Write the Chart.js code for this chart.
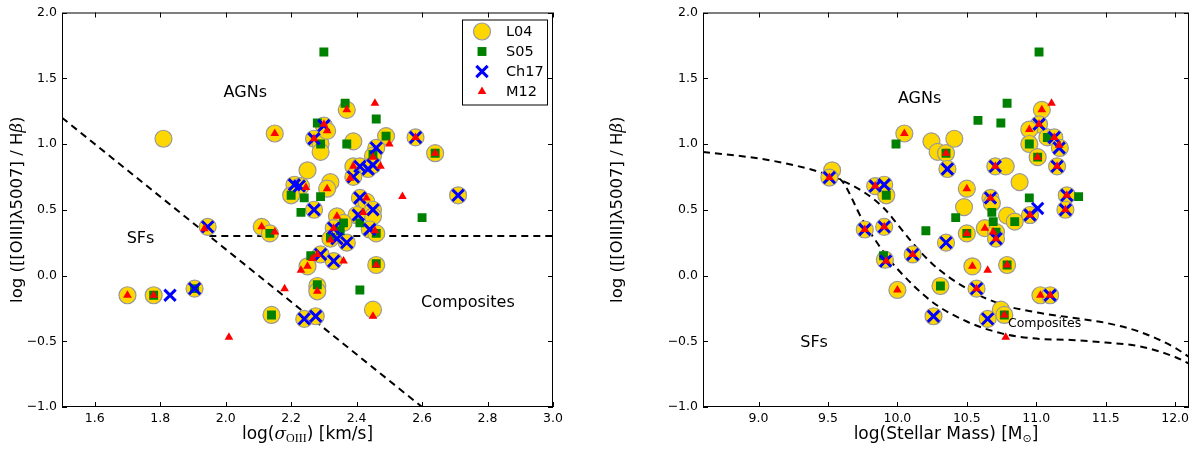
<!DOCTYPE html>
<html>
<head>
<meta charset="utf-8">
<script src="https://cdn.jsdelivr.net/npm/chart.js@4.4.0/dist/chart.umd.min.js"></script>
<style>
  html, body { margin: 0; padding: 0; background: #fff; }
  #wrap { position: relative; width: 1200px; height: 449px; }
  .panel { position: absolute; top: 0; width: 600px; height: 449px; }
</style>
</head>
<body>
<div id="wrap">
  <div class="panel" style="left:0"><canvas id="sigmaChart" width="600" height="449"></canvas></div>
  <div class="panel" style="left:600px"><canvas id="massChart" width="600" height="449"></canvas></div>
</div>
<script>
// ---- data: [x, log([OIII]/Hb)] ----
const yTicks = [-1.0, -0.5, 0.0, 0.5, 1.0, 1.5, 2.0];
const sigmaTicks = [1.6, 1.8, 2.0, 2.2, 2.4, 2.6, 2.8, 3.0];
const massTicks = [9.0, 9.5, 10.0, 10.5, 11.0, 11.5, 12.0];

const sigmaL04 = [[1.81,1.04],[2.15,1.08],[2.27,1.04],[2.29,1.00],[2.29,0.94],[2.30,1.14],[2.31,1.10],[2.37,1.26],
  [2.39,1.02],[2.49,1.06],[2.46,0.97],[2.58,1.05],[2.64,0.93],[2.25,0.80],[2.45,0.91],[2.39,0.83],[2.41,0.83],
  [2.435,0.81],[2.45,0.84],[2.39,0.75],[2.32,0.71],[2.31,0.66],[2.21,0.69],[2.23,0.68],[2.20,0.61],[2.27,0.50],
  [2.41,0.59],[2.43,0.56],[2.45,0.50],[2.45,0.45],[2.40,0.46],[2.71,0.61],[2.34,0.45],[2.36,0.40],[2.33,0.36],
  [2.32,0.28],[2.37,0.25],[2.44,0.35],[2.46,0.32],[2.29,0.16],[2.33,0.11],[2.25,0.07],[2.46,0.08],[2.28,-0.08],
  [2.28,-0.12],[2.45,-0.26],[2.14,-0.30],[2.24,-0.33],[2.275,-0.31],[2.11,0.37],[2.135,0.32],[1.70,-0.15],
  [1.78,-0.15],[1.905,-0.10],[1.945,0.37]];
const sigmaS05 = [[2.30,1.70],[2.365,1.31],[2.46,1.19],[2.28,1.16],[2.29,1.00],[2.37,1.00],[2.49,1.06],[2.64,0.93],
  [2.45,0.92],[2.20,0.61],[2.24,0.59],[2.29,0.60],[2.23,0.48],[2.41,0.40],[2.36,0.40],[2.35,0.34],[2.32,0.29],
  [2.46,0.32],[2.26,0.15],[2.46,0.09],[2.28,-0.07],[2.41,-0.11],[2.14,-0.30],[1.78,-0.15],[1.905,-0.10],
  [2.135,0.32],[2.60,0.44]];
const sigmaCh17 = [[1.83,-0.15],[1.905,-0.10],[1.945,0.37],[2.27,1.04],[2.30,1.14],[2.46,0.97],[2.58,1.05],
  [2.41,0.83],[2.435,0.81],[2.45,0.84],[2.39,0.75],[2.21,0.69],[2.225,0.68],[2.27,0.50],[2.41,0.59],[2.45,0.50],
  [2.405,0.46],[2.71,0.61],[2.33,0.36],[2.34,0.28],[2.37,0.25],[2.44,0.35],[2.29,0.16],[2.33,0.11],[2.24,-0.33],
  [2.275,-0.31]];
const sigmaM12 = [[2.15,1.08],[2.27,1.04],[2.30,1.15],[2.31,1.10],[2.37,1.26],[2.456,1.31],[2.50,1.00],[2.58,1.05],
  [2.64,0.93],[2.45,0.90],[2.473,0.83],[2.39,0.83],[2.38,0.74],[2.31,0.66],[2.245,0.67],[2.43,0.59],[2.54,0.60],
  [2.42,0.48],[2.34,0.45],[2.33,0.36],[2.32,0.27],[2.456,0.34],[2.28,0.16],[2.265,0.13],[2.25,0.07],[2.23,0.04],
  [2.36,0.11],[2.46,0.08],[2.28,-0.12],[2.45,-0.31],[2.18,-0.10],[2.11,0.37],[2.15,0.33],[2.01,-0.47],
  [1.935,0.355],[1.70,-0.15],[1.78,-0.15]];

const massL04 = [[9.53,0.80],[9.51,0.745],[10.05,1.08],[10.245,1.02],[10.29,0.94],[10.35,0.93],[10.36,0.81],
  [9.84,0.68],[9.905,0.69],[9.92,0.61],[9.765,0.35],[9.905,0.37],[10.35,0.25],[10.11,0.16],[9.91,0.12],
  [10.0,-0.11],[10.31,-0.08],[10.26,-0.31],[11.04,1.26],[11.02,1.15],[10.95,1.11],[10.95,1.00],[11.08,1.05],
  [11.13,1.05],[11.17,0.97],[11.01,0.90],[11.15,0.83],[10.705,0.83],[10.78,0.83],[10.88,0.71],[10.41,1.04],
  [10.50,0.66],[10.67,0.59],[10.68,0.55],[10.48,0.52],[10.79,0.455],[10.845,0.41],[10.955,0.46],[11.22,0.61],
  [11.21,0.50],[10.63,0.36],[10.71,0.33],[10.71,0.28],[10.50,0.32],[10.54,0.07],[10.79,0.08],[10.57,-0.10],
  [11.03,-0.15],[11.10,-0.15],[10.745,-0.26],[10.77,-0.30],[10.65,-0.33]];
const massS05 = [[11.02,1.70],[10.79,1.31],[10.58,1.18],[10.745,1.16],[10.95,1.00],[11.08,1.05],[11.01,0.90],
  [9.99,1.00],[10.35,0.93],[9.92,0.61],[10.205,0.34],[9.90,0.15],[10.31,-0.08],[10.42,0.44],[10.68,0.48],
  [10.69,0.41],[10.845,0.41],[10.95,0.59],[11.305,0.60],[10.71,0.33],[10.50,0.32],[10.79,0.08],[10.77,-0.30]];
const massCh17 = [[9.51,0.745],[10.36,0.81],[9.84,0.68],[9.905,0.69],[9.765,0.35],[9.905,0.37],[10.35,0.25],
  [10.11,0.16],[9.915,0.11],[10.26,-0.31],[11.02,1.15],[11.13,1.05],[11.165,0.97],[11.15,0.83],[10.705,0.83],
  [10.67,0.59],[10.955,0.46],[11.01,0.51],[11.22,0.61],[11.21,0.50],[10.71,0.28],[10.57,-0.10],[11.10,-0.15],
  [10.65,-0.33]];
const massM12 = [[9.51,0.745],[10.05,1.08],[10.35,0.93],[9.84,0.68],[9.765,0.35],[9.905,0.37],[10.11,0.16],
  [9.92,0.11],[10.0,-0.11],[11.04,1.26],[11.11,1.31],[11.02,1.15],[10.95,1.11],[11.13,1.05],[11.165,0.99],
  [11.01,0.90],[11.15,0.83],[10.705,0.83],[10.50,0.66],[10.67,0.59],[10.955,0.46],[11.22,0.61],[11.21,0.50],
  [10.63,0.36],[10.69,0.33],[10.71,0.28],[10.50,0.32],[10.54,0.07],[10.65,0.04],[10.79,0.08],[10.57,-0.10],
  [11.03,-0.15],[11.10,-0.15],[10.77,-0.30],[10.78,-0.47]];

// dividing lines
const sigmaDiagonal = [[1.5,1.2],[2.6,-1.0]];
const sigmaFlat = [[1.95,0.3],[3.0,0.3]];
const mexUpper = [[8.6,0.94],[9.0,0.89],[9.25,0.84],[9.5,0.765],[9.75,0.64],[9.9,0.515],[10.0,0.39],[10.1,0.26],
  [10.25,0.09],[10.5,-0.10],[10.75,-0.22],[11.0,-0.28],[11.25,-0.32],[11.5,-0.36],[11.75,-0.43],[12.0,-0.55],[12.1,-0.62]];
const mexLower = [[9.5,0.765],[9.6,0.72],[9.75,0.42],[9.9,0.18],[10.0,0.05],[10.25,-0.20],[10.5,-0.35],
  [10.75,-0.44],[11.0,-0.48],[11.25,-0.49],[11.5,-0.51],[11.75,-0.54],[12.0,-0.62],[12.1,-0.67]];

const FONT = 'DejaVu Sans';
const fmt = v => v.toFixed(1).replace('-', '\u2212');
const pts = arr => arr.map(p => ({ x: p[0], y: p[1] }));

function markerSets(l04, s05, ch17, m12) {
  // lower "order" = drawn on top
  return [
    { label: 'M12', data: pts(m12), order: 1, pointStyle: 'triangle', pointRadius: 5,
      backgroundColor: '#ff0000', borderColor: '#ff0000', borderWidth: 0 },
    { label: 'Ch17', data: pts(ch17), order: 2, pointStyle: 'crossRot', pointRadius: 8,
      borderColor: '#0000ff', backgroundColor: '#0000ff', borderWidth: 3 },
    { label: 'S05', data: pts(s05), order: 3, pointStyle: 'rect', pointRadius: 6.3,
      backgroundColor: '#008000', borderColor: '#008000', borderWidth: 0 },
    { label: 'L04', data: pts(l04), order: 4, pointStyle: 'circle', pointRadius: 8.5,
      backgroundColor: '#ffd700', borderColor: '#999999', borderWidth: 1.2 }
  ];
}

function lineSet(arr, smooth) {
  return { data: pts(arr), order: 5, showLine: true, pointRadius: 0, borderColor: '#000', borderWidth: 2,
    borderDash: [7, 5], fill: false, cubicInterpolationMode: smooth ? 'monotone' : 'default', tension: 0 };
}

function drawRich(ctx, segs, cx, cy, rotate) {
  ctx.save();
  ctx.translate(cx, cy);
  if (rotate) ctx.rotate(-Math.PI / 2);
  ctx.textBaseline = 'middle';
  ctx.textAlign = 'left';
  let total = 0;
  segs.forEach(s => { ctx.font = s.font; s.w = ctx.measureText(s.t).width; total += s.w; });
  let x = -total / 2;
  segs.forEach(s => { ctx.font = s.font; ctx.fillStyle = '#000'; ctx.fillText(s.t, x, s.dy || 0); x += s.w; });
  ctx.restore();
}

const decor = {
  id: 'decor',
  afterDraw(chart, args, o) {
    const { ctx, chartArea: a, scales } = chart;
    ctx.save();
    // frame
    ctx.strokeStyle = '#000';
    ctx.lineWidth = 1;
    ctx.strokeRect(a.left + 0.5, a.top + 0.5, a.right - a.left - 1, a.bottom - a.top - 1);
    // inward ticks on all four sides
    ctx.beginPath();
    scales.x.ticks.forEach(t => {
      const px = Math.round(scales.x.getPixelForValue(t.value)) + 0.5;
      ctx.moveTo(px, a.bottom); ctx.lineTo(px, a.bottom - 5);
      ctx.moveTo(px, a.top); ctx.lineTo(px, a.top + 5);
    });
    scales.y.ticks.forEach(t => {
      const py = Math.round(scales.y.getPixelForValue(t.value)) + 0.5;
      ctx.moveTo(a.left, py); ctx.lineTo(a.left + 5, py);
      ctx.moveTo(a.right, py); ctx.lineTo(a.right - 5, py);
    });
    ctx.stroke();
    // region labels
    ctx.fillStyle = '#000';
    ctx.textAlign = 'center';
    ctx.textBaseline = 'middle';
    o.notes.forEach(n => {
      ctx.font = n.size + 'px ' + FONT;
      ctx.fillText(n.text, scales.x.getPixelForValue(n.x), scales.y.getPixelForValue(n.y));
    });
    // axis titles
    drawRich(ctx, o.xTitle, (a.left + a.right) / 2, 435, false);
    drawRich(ctx, o.yTitle, 18, (a.top + a.bottom) / 2, true);
    // legend box
    if (o.legend) {
      const bx = a.right - 91, by = a.top + 7, bw = 85, bh = 85;
      ctx.fillStyle = '#fff';
      ctx.fillRect(bx, by, bw, bh);
      ctx.strokeStyle = '#000';
      ctx.lineWidth = 1;
      ctx.strokeRect(bx + 0.5, by + 0.5, bw, bh);
      const mx = bx + 20, tx = bx + 44;
      o.legend.forEach((item, i) => {
        const my = by + 12 + i * 20;
        const st = chart.data.datasets.find(d => d.label === item);
        ctx.fillStyle = st.backgroundColor;
        ctx.strokeStyle = st.borderColor;
        ctx.lineWidth = st.borderWidth;
        if (st.pointStyle === 'circle') {
          ctx.beginPath(); ctx.arc(mx, my, st.pointRadius, 0, Math.PI * 2); ctx.fill(); ctx.stroke();
        } else if (st.pointStyle === 'rect') {
          const s = st.pointRadius * Math.SQRT1_2;
          ctx.fillRect(mx - s, my - s, 2 * s, 2 * s);
        } else if (st.pointStyle === 'crossRot') {
          const s = st.pointRadius * Math.SQRT1_2;
          ctx.beginPath();
          ctx.moveTo(mx - s, my - s); ctx.lineTo(mx + s, my + s);
          ctx.moveTo(mx + s, my - s); ctx.lineTo(mx - s, my + s);
          ctx.stroke();
        } else {
          const r = st.pointRadius;
          ctx.beginPath();
          ctx.moveTo(mx, my - r);
          ctx.lineTo(mx + r * 0.866, my + r / 2);
          ctx.lineTo(mx - r * 0.866, my + r / 2);
          ctx.closePath(); ctx.fill();
        }
        ctx.fillStyle = '#000';
        ctx.textAlign = 'left';
        ctx.font = '14.5px ' + FONT;
        ctx.fillText(item, tx, my + 1);
      });
    }
    ctx.restore();
  }
};

const yTitle = [
  { t: 'log ([[OIII]\u03bb5007] / H', font: '16.5px ' + FONT },
  { t: '\u03b2', font: 'italic 16.5px DejaVu Serif' },
  { t: ')', font: '16.5px ' + FONT }
];

function makeChart(id, o) {
  return new Chart(document.getElementById(id), {
    type: 'scatter',
    data: { datasets: markerSets(...o.sets).concat(o.lines) },
    options: {
      responsive: false,
      animation: false,
      events: [],
      layout: { padding: { top: 11, right: o.padRight, left: 0, bottom: 0 } },
      plugins: {
        legend: { display: false },
        tooltip: { enabled: false },
        decor: { notes: o.notes, xTitle: o.xTitle, yTitle: yTitle, legend: o.legend }
      },
      scales: {
        x: {
          type: 'linear', min: o.xMin, max: o.xMax,
          afterBuildTicks: s => { s.ticks = o.xTicks.map(v => ({ value: v })); },
          afterFit: s => { s.height = 42; },
          grid: { display: false, drawTicks: false }, border: { display: false },
          ticks: { color: '#000', font: { family: FONT, size: 12.5 }, padding: 4, maxRotation: 0,
                   autoSkip: false, callback: v => fmt(v) }
        },
        y: {
          type: 'linear', min: -1.0, max: 2.0,
          afterBuildTicks: s => { s.ticks = yTicks.map(v => ({ value: v })); },
          afterFit: s => { s.width = o.yWidth; },
          grid: { display: false, drawTicks: false }, border: { display: false },
          ticks: { color: '#000', font: { family: FONT, size: 12.5 }, padding: 5,
                   autoSkip: false, callback: v => fmt(v) }
        }
      }
    },
    plugins: [decor]
  });
}

makeChart('sigmaChart', {
  sets: [sigmaL04, sigmaS05, sigmaCh17, sigmaM12],
  lines: [lineSet(sigmaDiagonal, false), lineSet(sigmaFlat, false)],
  xMin: 1.5, xMax: 3.0, xTicks: sigmaTicks, yWidth: 62, padRight: 47,
  notes: [
    { text: 'AGNs', x: 2.06, y: 1.39, size: 16 },
    { text: 'SFs', x: 1.74, y: 0.28, size: 16 },
    { text: 'Composites', x: 2.74, y: -0.21, size: 16 }
  ],
  legend: ['L04', 'S05', 'Ch17', 'M12'],
  xTitle: [
    { t: 'log(', font: '17px ' + FONT },
    { t: '\u03c3', font: 'italic 17px DejaVu Serif' },
    { t: 'OIII', font: '12px Liberation Serif', dy: 4 },
    { t: ') [km/s]', font: '17px ' + FONT }
  ]
});

makeChart('massChart', {
  sets: [massL04, massS05, massCh17, massM12],
  lines: [lineSet(mexUpper, true), lineSet(mexLower, true)],
  xMin: 8.6, xMax: 12.1, xTicks: massTicks, yWidth: 103, padRight: 5,
  notes: [
    { text: 'AGNs', x: 10.16, y: 1.34, size: 16 },
    { text: 'SFs', x: 9.4, y: -0.51, size: 16 },
    { text: 'Composites', x: 11.06, y: -0.37, size: 12.5 }
  ],
  legend: null,
  xTitle: [
    { t: 'log(Stellar Mass) [M', font: '17px ' + FONT },
    { t: '\u2299', font: '11px ' + FONT, dy: 4 },
    { t: ']', font: '17px ' + FONT }
  ]
});
</script>
</body>
</html>
